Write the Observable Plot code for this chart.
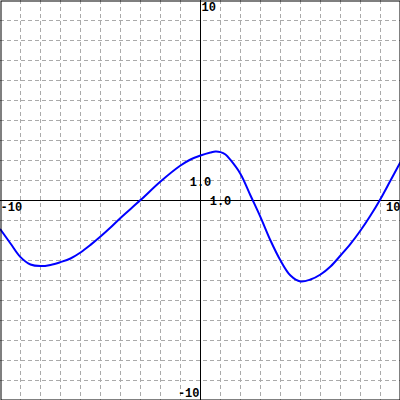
<!DOCTYPE html>
<html>
<head>
<meta charset="utf-8">
<script src="https://cdn.jsdelivr.net/npm/d3@7"></script>
<script src="https://cdn.jsdelivr.net/npm/@observablehq/plot@0.6"></script>
<style>
  html, body { margin: 0; padding: 0; background: #fff; }
  #chart svg { display: block; }
</style>
</head>
<body>
<div id="chart"></div>
<script>
const xs = [-10, -9.5, -9, -8.5, -8, -7.5, -7, -6.5, -6, -5.5, -5, -4.5, -4, -3, -2, -1, -0.5, 0, 0.5, 0.75, 1, 1.25, 1.5, 2, 2.5, 3, 3.5, 4, 4.5, 5, 5.5, 6, 6.5, 7, 7.5, 8, 8.5, 9, 9.5, 10];
const ys = [-1.45, -2.15, -2.83, -3.2, -3.28, -3.22, -3.08, -2.9, -2.6, -2.22, -1.8, -1.35, -0.87, 0.02, 0.95, 1.75, 2.05, 2.25, 2.4, 2.45, 2.42, 2.3, 2.03, 1.33, 0.25, -0.83, -2.0, -3.0, -3.75, -4.05, -3.95, -3.7, -3.3, -2.75, -2.17, -1.5, -0.75, 0.08, 1.0, 1.92];
const gridTicks = [-9, -8, -7, -6, -5, -4, -3, -2, -1, 1, 2, 3, 4, 5, 6, 7, 8, 9];
const labelX = [-10, 10, 1, 0, 0, 0];
const labelY = [0, 0, 0, 10, -10, 1];
const labelText = ["-10", "10", "1.0", "10", "-10", "1.0"];
const labelAnchor = ["start", "end", "middle", "start", "end", "middle"];
const labelDx = [0, 0, 0, 1, -1, 0];
const labelDy = [7, 7, 1, 6.5, -7, 1.5];

const data = xs.map((x, i) => ({x, y: ys[i]}));
const textMarks = labelText.map((t, i) => Plot.text([{x: labelX[i], y: labelY[i], t}], {
  x: "x", y: "y", text: "t",
  textAnchor: labelAnchor[i],
  dx: labelDx[i], dy: labelDy[i],
  fontFamily: "Liberation Mono",
  fontWeight: "bold",
  fontSize: 12,
  fill: "black"
}));

const chart = Plot.plot({
  width: 400,
  height: 400,
  margin: 0,
  x: {domain: [-10, 10], axis: null},
  y: {domain: [-10, 10], axis: null},
  marks: [
    Plot.ruleX(gridTicks, {stroke: "#aaaaaa", strokeWidth: 1, strokeDasharray: "4,3"}),
    Plot.ruleY(gridTicks, {stroke: "#aaaaaa", strokeWidth: 1, strokeDasharray: "4,3"}),
    Plot.ruleX([0], {stroke: "black", strokeWidth: 1}),
    Plot.ruleY([0], {stroke: "black", strokeWidth: 1}),
    Plot.line(data, {x: "x", y: "y", stroke: "#0000ff", strokeWidth: 2, curve: "catmull-rom"}),
    ...textMarks,
    Plot.frame({stroke: "black", strokeWidth: 1, inset: 0.5})
  ]
});
document.getElementById("chart").appendChild(chart);
</script>
</body>
</html>
